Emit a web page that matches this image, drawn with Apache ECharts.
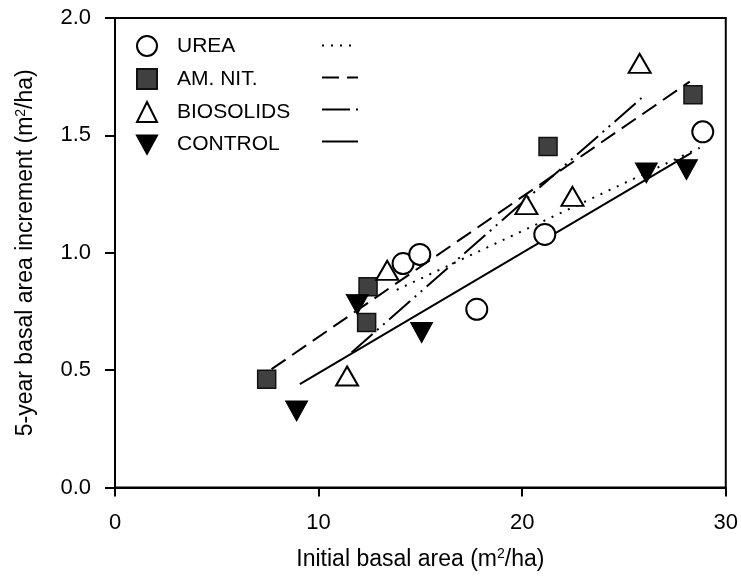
<!DOCTYPE html>
<html>
<head>
<meta charset="utf-8">
<script src="https://cdn.jsdelivr.net/npm/echarts@6/dist/echarts.min.js"></script>
<style>
html,body{margin:0;padding:0;background:#fff;}
#chart{width:741px;height:576px;}
</style>
</head>
<body>
<div id="chart"></div>
<script>
// ---- data ----
const seriesNames = ['UREA', 'AM. NIT.', 'BIOSOLIDS', 'CONTROL'];

const ureaX = [14.15, 14.97, 17.77, 21.11, 28.87];
const ureaY = [0.954, 0.993, 0.759, 1.078, 1.515];

const amNitX = [7.45, 12.43, 12.36, 21.27, 28.39];
const amNitY = [0.461, 0.855, 0.703, 1.453, 1.673];

const bioX = [11.40, 13.37, 20.21, 22.47, 25.77];
const bioY = [0.475, 0.925, 1.205, 1.240, 1.807];

const ctrlX = [8.92, 11.90, 15.06, 26.10, 28.07];
const ctrlY = [0.326, 0.780, 0.660, 1.340, 1.354];

// fitted regression lines (end points)
const ureaFitX = [13.84, 28.72];
const ureaFitY = [0.842, 1.447];
const amNitFitX = [7.69, 28.23];
const amNitFitY = [0.504, 1.729];
const bioFitX = [11.62, 25.86];
const bioFitY = [0.575, 1.659];
const ctrlFitX = [9.08, 28.31];
const ctrlFitY = [0.440, 1.425];

const xTicks = [0, 10, 20, 30];
const yTicks = [0.0, 0.5, 1.0, 1.5, 2.0];

// ---- chart ----
const zip = (xs, ys) => xs.map((x, i) => [x, ys[i]]);
const FONT = "'Liberation Sans', Arial, Helvetica, sans-serif";
const FS_TICK = 22;
const FS_NAME = 23;
const FS_LEG = 21;

const chart = echarts.init(document.getElementById('chart'), null, {renderer: 'canvas'});

const fitNames = seriesNames.map(n => n + ' fit');

const scatterStyles = [
  {symbol: 'circle', symbolSize: 21, itemStyle: {color: '#fff', borderColor: '#000', borderWidth: 2, opacity: 1}},
  {symbol: 'rect', symbolSize: 18, itemStyle: {color: '#404040', borderColor: '#111', borderWidth: 1.5, opacity: 1}},
  {symbol: 'triangle', symbolSize: [22, 19], itemStyle: {color: '#fff', borderColor: '#000', borderWidth: 2, opacity: 1}},
  {symbol: 'path://M0,0 L22,0 L11,20 Z', symbolSize: [22, 20], itemStyle: {color: '#000', borderColor: '#000', borderWidth: 1, opacity: 1}}
];
const lineTypes = [[2, 7], [17, 8], [28, 6, 2, 6, 2, 6], 'solid'];

const scatterData = [zip(ureaX, ureaY), zip(amNitX, amNitY), zip(bioX, bioY), zip(ctrlX, ctrlY)];
const fitData = [zip(ureaFitX, ureaFitY), zip(amNitFitX, amNitFitY), zip(bioFitX, bioFitY), zip(ctrlFitX, ctrlFitY)];

const series = [];
fitData.forEach((d, i) => {
  series.push({
    name: fitNames[i],
    type: 'line',
    data: d,
    symbol: 'none',
    z: 2,
    itemStyle: {color: '#000', opacity: 0},
    lineStyle: {color: '#000', width: 2, type: lineTypes[i]},
    silent: true
  });
});
scatterData.forEach((d, i) => {
  series.push(Object.assign({
    name: seriesNames[i],
    type: 'scatter',
    data: d,
    z: 3,
    silent: true
  }, scatterStyles[i]));
});

chart.setOption({
  animation: false,
  textStyle: {fontFamily: FONT, color: '#000'},
  grid: {left: 115, right: 15, top: 18, bottom: 88, show: true, borderColor: '#000', borderWidth: 2, backgroundColor: 'transparent'},
  legend: [
    {
      data: seriesNames,
      orient: 'vertical',
      left: 131,
      top: 30,
      itemWidth: 20,
      itemHeight: 20,
      itemGap: 11,
      selectedMode: false,
      textStyle: {fontFamily: FONT, fontSize: FS_LEG, color: '#000', lineHeight: 20, padding: [0, 0, 0, 15]}
    },
    {
      data: fitNames,
      orient: 'vertical',
      left: 316,
      top: 30,
      itemWidth: 36,
      itemHeight: 20,
      itemGap: 11,
      selectedMode: false,
      formatter: () => ' ',
      itemStyle: {opacity: 0},
      lineStyle: {color: '#000', width: 2},
      textStyle: {fontFamily: FONT, fontSize: FS_LEG, lineHeight: 20}
    }
  ],
  xAxis: {
    type: 'value',
    min: xTicks[0],
    max: xTicks[xTicks.length - 1],
    interval: xTicks[1] - xTicks[0],
    name: 'Initial basal area (m{sup|2}/ha)',
    nameLocation: 'middle',
    nameGap: 60,
    nameTextStyle: {fontFamily: FONT, fontSize: FS_NAME, color: '#000', rich: {sup: {fontSize: 14, padding: [0, 0, 10, 0], fontFamily: FONT}}},
    axisLine: {show: true, lineStyle: {color: '#000', width: 2}},
    axisTick: {show: true, inside: false, length: 9, lineStyle: {color: '#000', width: 2}},
    axisLabel: {fontFamily: FONT, fontSize: FS_TICK, color: '#000', margin: 24},
    splitLine: {show: false}
  },
  yAxis: {
    type: 'value',
    min: yTicks[0],
    max: yTicks[yTicks.length - 1],
    interval: yTicks[1] - yTicks[0],
    name: '5-year basal area increment (m{sup|2}/ha)',
    nameLocation: 'middle',
    nameGap: 77,
    nameRotate: 90,
    nameTextStyle: {fontFamily: FONT, fontSize: FS_NAME, color: '#000', rich: {sup: {fontSize: 14, padding: [0, 0, 10, 0], fontFamily: FONT}}},
    axisLine: {show: true, lineStyle: {color: '#000', width: 2}},
    axisTick: {show: true, inside: false, length: 10, lineStyle: {color: '#000', width: 2}},
    axisLabel: {fontFamily: FONT, fontSize: FS_TICK, color: '#000', margin: 24, formatter: v => v.toFixed(1)},
    splitLine: {show: false}
  },
  series: series
});
</script>
</body>
</html>
